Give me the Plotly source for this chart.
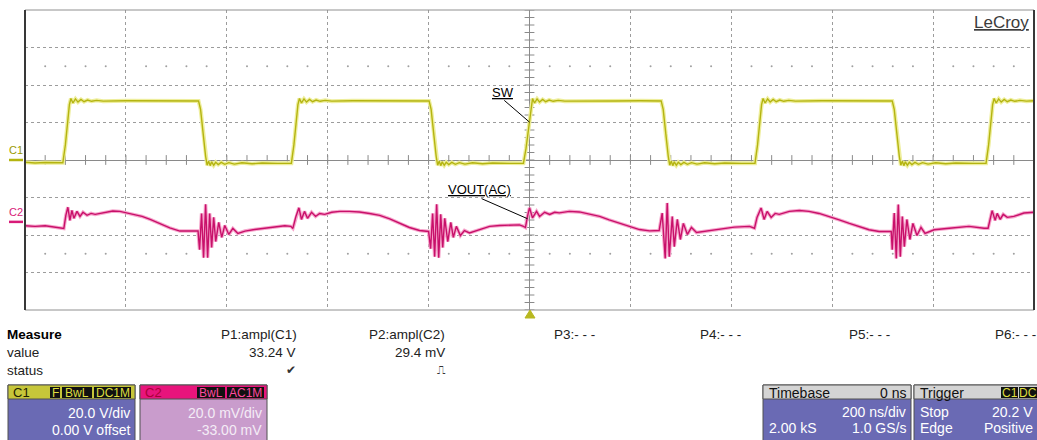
import plotly.graph_objects as go

# ---------------- data ----------------
# Channel 1 (SW node), time in ns, volts
C1_T = [-1000, -980, -960, -940, -925, -920, -915, -912, -909, -905, -900, -895, -889, -883, -876, -868, -858, -845,
        -800, -750, -700, -656, -652, -647, -642, -639, -636, -633, -630, -626, -622, -617, -611, -604, -596, -585,
        -570, -550, -530, -500, -472, -467, -462, -459, -456, -452, -447, -442, -436, -430, -423, -415, -405, -392,
        -350, -300, -250, -199, -195, -190, -185, -182, -179, -176, -173, -169, -165, -160, -154, -147, -139, -128,
        -113, -93, -73, -40, -12, -7, 0, 3, 6, 10, 15, 20, 26, 32, 39, 47, 57, 70,
        120, 170, 220, 261, 265, 270, 275, 278, 281, 284, 287, 291, 295, 300, 306, 313, 321, 332,
        347, 367, 387, 420, 447, 452, 457, 460, 463, 467, 472, 477, 483, 489, 496, 504, 514, 527,
        580, 630, 680, 719, 723, 728, 733, 736, 739, 742, 745, 749, 753, 758, 764, 771, 779, 790,
        805, 825, 845, 880, 905, 910, 915, 918, 921, 925, 930, 935, 941, 947, 954, 962, 972, 985, 1000]
C1_V = [-1.2, -1.6, -1.3, -1.5, -1.5, 8, 22, 29.5, 32.8, 30.4, 32.6, 30.9, 32.3, 31.1, 32.0, 31.3, 31.8, 31.4,
        31.6, 31.5, 31.6, 31.5, 27, 14, 2, -2.8, -0.6, -3.0, -1.0, -2.8, -1.2, -2.4, -1.3, -2.3, -1.4, -2.2,
        -1.5, -2.0, -1.6, -1.8, -1.7, 8, 22, 29.5, 32.8, 30.4, 32.6, 30.9, 32.3, 31.1, 32.0, 31.3, 31.8, 31.4,
        31.6, 31.5, 31.6, 31.5, 27, 14, 2, -2.8, -0.6, -3.0, -1.0, -2.8, -1.2, -2.4, -1.3, -2.3, -1.4, -2.2,
        -1.5, -2.0, -1.6, -1.8, -1.7, 6, 20.2, 28, 32.8, 30.4, 32.6, 30.9, 32.3, 31.1, 32.0, 31.3, 31.8, 31.4,
        31.6, 31.5, 31.6, 31.5, 27, 14, 2, -2.8, -0.6, -3.0, -1.0, -2.8, -1.2, -2.4, -1.3, -2.3, -1.4, -2.2,
        -1.5, -2.0, -1.6, -1.8, -1.7, 8, 22, 29.5, 32.8, 30.4, 32.6, 30.9, 32.3, 31.1, 32.0, 31.3, 31.8, 31.4,
        31.6, 31.5, 31.6, 31.5, 27, 14, 2, -2.8, -0.6, -3.0, -1.0, -2.8, -1.2, -2.4, -1.3, -2.3, -1.4, -2.2,
        -1.5, -2.0, -1.6, -1.8, -1.7, 8, 22, 29.5, 32.8, 30.4, 32.6, 30.9, 32.3, 31.1, 32.0, 31.3, 31.8, 31.4, 31.6]

# Channel 2 (VOUT, AC coupled), time in ns, millivolts
C2_T = [-1000, -980, -960, -941, -927, -923, -919, -915, -911, -907, -903, -897, -891, -885, -877, -869, -861, -851,
        -838, -826, -812, -798, -782, -768, -752, -733, -713, -693, -673, -657,
        -654, -650, -646, -642, -638, -634, -630, -626, -622, -616, -610, -604, -596, -588, -578, -564, -545, -525,
        -505, -485, -473,
        -469, -463, -457, -452, -446, -440, -432, -424, -416, -406, -392, -376, -357, -337, -317, -297, -277, -257,
        -238, -218, -200,
        -196, -192, -188, -184, -180, -176, -172, -168, -162, -156, -151, -145, -137, -129, -119, -99, -79, -59,
        -40, -20,
        -12, -8, -4, 0, 6, 14, 20, 30, 40, 50, 59, 79, 99, 119, 139, 158, 178, 198, 218, 238, 257,
        263, 269, 273, 277, 283, 287, 293, 299, 305, 313, 321, 331, 347, 376, 406, 436, 446,
        451, 459, 465, 471, 479, 487, 495, 515, 535, 554, 574, 594, 614, 634, 653, 673, 693, 717,
        719, 723, 727, 731, 735, 739, 743, 748, 754, 760, 768, 776, 784, 802, 832, 871, 901, 909,
        913, 917, 923, 927, 933, 939, 947, 960, 980, 1000]
C2_MV = [-2.1, -2.4, -2.1, -2.7, -3.0, -3.5, 3.5, 7.8, 0.8, 6.1, 1.9, 5.6, 2.9, 5.1, 3.5, 4.5, 4.0, 4.5,
         5.1, 5.8, 5.6, 4.8, 4.0, 2.9, 1.3, -0.8, -3.2, -4.9, -5.1, -4.9,
         -14.8, 4.5, -19.1, 9.4, -19.1, 4.5, -13.7, 2.4, -10.5, -0.3, -8.3, -1.9, -6.7, -3.5, -6.2, -4.9, -4.1, -3.2,
         -2.7, -2.1, -2.4,
         -3.5, 2.9, 7.5, 1.3, 5.6, 1.9, 5.1, 2.9, 4.5, 4.0, 5.1, 5.6, 5.6, 5.3, 4.5, 3.5, 1.6, -0.8,
         -3.0, -4.6, -5.1,
         -14.3, 4.5, -18.6, 9.4, -19.1, 4.0, -13.7, 1.9, -10.5, -0.3, -8.3, -2.4, -7.3, -4.6, -5.9, -4.1, -2.4, -1.9,
         -1.6, -1.6,
         -2.4, -3.0, 2.9, 7.5, 2.1, 5.6, 2.9, 5.1, 4.0, 5.1, 4.8, 5.6, 5.3, 4.2, 2.9, 1.1, -0.8, -2.4, -4.1, -4.8, -4.6,
         4.7, -19.5, 10.1, -18.6, 2.9, -13.2, 1.3, -9.4, -0.8, -6.7, -3.0, -5.7, -5.1, -3.9, -2.8, -2.4, -3.4,
         2.4, 7.4, 1.3, 5.6, 2.4, 4.5, 4.0, 5.6, 6.1, 5.6, 4.5, 2.9, 1.1, -0.8, -2.4, -4.2, -5.1, -5.1,
         -14.8, 4.7, -19.5, 9.2, -18.6, 2.9, -13.2, 1.3, -9.4, -0.8, -7.3, -3.0, -6.2, -4.2, -3.4, -2.4, -3.4, -3.4,
         1.3, 6.0, 0.8, 4.5, 1.3, 4.0, 2.4, 2.9, 4.7, 5.1]

# Screen settings
TIME_RANGE = [-1000, 1000]          # 200 ns/div, 10 div
C1_RANGE = [-80, 80]                # 20 V/div, 0 V offset
C2_RANGE = [-47, 113]               # 20 mV/div, -33 mV offset

MEAS_HEADERS = ["P1:ampl(C1)", "P2:ampl(C2)", "P3:- - -", "P4:- - -", "P5:- - -", "P6:- - -"]
MEAS_VALUES = ["33.24 V", "29.4 mV"]
MEAS_STATUS = ["\u2714", "\u238d"]

FONT = "Liberation Sans, Arial, sans-serif"
W, H = 1037, 440
L, R, T, B = 25, 3, 10, 130
PW, PH = W - L - R, H - T - B


def px(x):
    return (x - L) / PW


def py(y):
    return (T + PH - y) / PH


YEL = "#b4b410"
MAG = "#d81a78"

fig = go.Figure()

# grid decorations: ticks on centre lines and dot rows
tick_x = [-1000 + 40 * i for i in range(51)]
tick_y = [-80 + 4 * i for i in range(41)]
fig.add_trace(go.Scatter(x=tick_x, y=[0] * len(tick_x), mode="markers", hoverinfo="skip",
                         marker=dict(symbol="line-ns", size=7, line=dict(color="#8a8a8a", width=1))))
fig.add_trace(go.Scatter(x=[0] * len(tick_y), y=tick_y, mode="markers", hoverinfo="skip",
                         marker=dict(symbol="line-ew", size=7, line=dict(color="#8a8a8a", width=1))))
dot_x = [x for x in tick_x if x % 200 != 0]
fig.add_trace(go.Scatter(x=dot_x * 2, y=[50] * len(dot_x) + [-50] * len(dot_x), mode="markers",
                         hoverinfo="skip", marker=dict(symbol="circle", size=2, color="#a0a0a0")))

# traces (halo + core)
fig.add_trace(go.Scatter(x=C1_T, y=C1_V, mode="lines", hoverinfo="skip",
                         line=dict(color="#eeee9c", width=4)))
fig.add_trace(go.Scatter(x=C1_T, y=C1_V, mode="lines", name="SW",
                         line=dict(color=YEL, width=1.4)))
fig.add_trace(go.Scatter(x=C2_T, y=C2_MV, mode="lines", yaxis="y2", hoverinfo="skip",
                         line=dict(color="#f6a6cc", width=3.5)))
fig.add_trace(go.Scatter(x=C2_T, y=C2_MV, mode="lines", yaxis="y2", name="VOUT(AC)",
                         line=dict(color="#c8106a", width=1.4)))

shapes = []
annotations = []


def txt(x, y, s, anc="left", col="#222", size=13.5, family=FONT):
    annotations.append(dict(xref="paper", yref="paper", x=px(x), y=py(y), xanchor=anc, yanchor="middle",
                            text=s, showarrow=False, font=dict(family=family, size=size, color=col)))


# plot frame
shapes.append(dict(type="rect", xref="paper", yref="paper", x0=0, x1=1, y0=0, y1=1,
                   line=dict(color="#909090", width=1)))
for xe in (0, 1):
    shapes.append(dict(type="line", xref="paper", yref="paper", x0=xe, x1=xe, y0=0, y1=1,
                       line=dict(color="#383838", width=2)))

# ground markers
shapes.append(dict(type="line", xref="paper", yref="y", x0=px(9), x1=px(23), y0=0, y1=0,
                   line=dict(color=YEL, width=2.5)))
shapes.append(dict(type="line", xref="paper", yref="y2", x0=px(9), x1=px(23), y0=0, y1=0,
                   line=dict(color=MAG, width=2.5)))
txt(16, 150, "C1", "center", "#9a9a00", 11)
txt(16, 212, "C2", "center", MAG, 11)

# trigger marker
shapes.append(dict(type="path", xref="paper", yref="paper",
                   path=f"M {px(530)} {py(310)} L {px(525)} {py(318)} L {px(535)} {py(318)} Z",
                   fillcolor="#b8b820", line=dict(color="#b8b820", width=1)))

# LeCroy logo
txt(1031, 22, "<u>LeCroy</u>", "right", "#3c3c3c", 17)

# trace labels
txt(503, 92, "<u>SW</u>", "center", "#000", 13)
shapes.append(dict(type="line", xref="x", yref="y", x0=-50, y0=31.8, x1=0, y1=20.2,
                   line=dict(color="#000", width=1)))
txt(479, 189, "<u>VOUT(AC)</u>", "center", "#000", 13)
shapes.append(dict(type="line", xref="x", yref="y2", x0=-95, y0=12.4, x1=-4, y1=1.7,
                   line=dict(color="#000", width=1)))

# measure table
RY = [334, 352, 370]
txt(5, RY[0], "<b>Measure</b>", "left", "#000", 13.5)
txt(5, RY[1], "value", "left", "#222", 13.5)
txt(5, RY[2], "status", "left", "#222", 13.5)
HDR_POS = [(299, "right"), (447, "right"), (552, "left"), (698, "left"), (847, "left"), (993, "left")]
for (hx, anc), s in zip(HDR_POS, MEAS_HEADERS):
    txt(hx, RY[0], s, anc, "#222", 13.5)
for hx, s in zip([298, 447], MEAS_VALUES):
    txt(hx, RY[1], s, "right", "#222", 13.5)
for hx, s in zip([291, 441], MEAS_STATUS):
    txt(hx, RY[2], s, "center", "#333", 12, "DejaVu Sans")


def box(x0, x1, head_col, body_col):
    shapes.append(dict(type="rect", xref="paper", yref="paper", x0=px(x0), x1=px(x1), y0=py(441), y1=py(385),
                       fillcolor=body_col, line=dict(color="#505050", width=1)))
    shapes.append(dict(type="rect", xref="paper", yref="paper", x0=px(x0), x1=px(x1), y0=py(399), y1=py(385),
                       fillcolor=head_col, line=dict(color="#505050", width=1)))


def tag(x0, x1, s, col):
    shapes.append(dict(type="rect", xref="paper", yref="paper", x0=px(x0), x1=px(x1), y0=py(398), y1=py(387),
                       fillcolor="#111", line=dict(color="#111", width=0)))
    txt((x0 + x1) / 2, 392.5, s, "center", col, 12)


BODY = "#6a6ab4"
WHITE = "#ffffff"
# C1 box
box(8, 135, "#c6c63a", BODY)
txt(11, 392.5, "C1", "left", "#202000", 13)
tag(50, 60, "F", "#dede40")
tag(62, 92, "BwL", "#dede40")
tag(94, 131, "DC1M", "#dede40")
txt(132, 413, "20.0 V/div", "right", WHITE, 14)
txt(132, 430, "0.00 V offset", "right", WHITE, 14)
# C2 box
box(140, 267, "#e8147c", "#c99ccc")
txt(143, 392.5, "C2", "left", "#a80038", 13)
tag(197, 225, "BwL", "#ff4aa0")
tag(227, 264, "AC1M", "#ff4aa0")
txt(264, 413, "20.0 mV/div", "right", "#f4ecf6", 14)
txt(264, 430, "-33.00 mV", "right", "#f4ecf6", 14)
# Timebase box
box(763, 911, "#d4d4d4", BODY)
txt(767, 392.5, "Timebase", "left", "#111", 14)
txt(908, 392.5, "0 ns", "right", "#111", 14)
txt(908, 412, "200 ns/div", "right", WHITE, 14)
txt(767, 428, "2.00 kS", "left", WHITE, 14)
txt(908, 428, "1.0 GS/s", "right", WHITE, 14)
# Trigger box
box(914, 1045, "#d4d4d4", BODY)
txt(918, 392.5, "Trigger", "left", "#111", 14)
tag(1001, 1018, "C1", "#dede40")
tag(1019, 1037, "DC", "#dede40")
txt(918, 412, "Stop", "left", WHITE, 14)
txt(1035, 412, "20.2 V", "right", WHITE, 14)
txt(918, 428, "Edge", "left", WHITE, 14)
txt(1035, 428, "Positive", "right", WHITE, 14)

fig.update_layout(
    width=W, height=H,
    margin=dict(l=L, r=R, t=T, b=B, pad=0),
    paper_bgcolor="white", plot_bgcolor="white",
    showlegend=False,
    font=dict(family=FONT, size=12, color="#222"),
    xaxis=dict(range=TIME_RANGE, dtick=200, tick0=-1000, showgrid=True, griddash="dot", gridcolor="#9c9c9c",
               gridwidth=1, zeroline=True, zerolinecolor="#8a8a8a", zerolinewidth=1,
               showticklabels=False, ticks="", showline=False, fixedrange=True),
    yaxis=dict(range=C1_RANGE, dtick=20, tick0=-80, showgrid=True, griddash="dot", gridcolor="#9c9c9c",
               gridwidth=1, zeroline=True, zerolinecolor="#8a8a8a", zerolinewidth=1,
               showticklabels=False, ticks="", showline=False, fixedrange=True),
    yaxis2=dict(range=C2_RANGE, overlaying="y", visible=False, showgrid=False, zeroline=False,
                fixedrange=True),
    shapes=shapes,
    annotations=annotations,
)

fig.write_html("out.html", config={"displayModeBar": False},
               post_script="document.body.style.margin='0';document.body.style.overflow='hidden';")
